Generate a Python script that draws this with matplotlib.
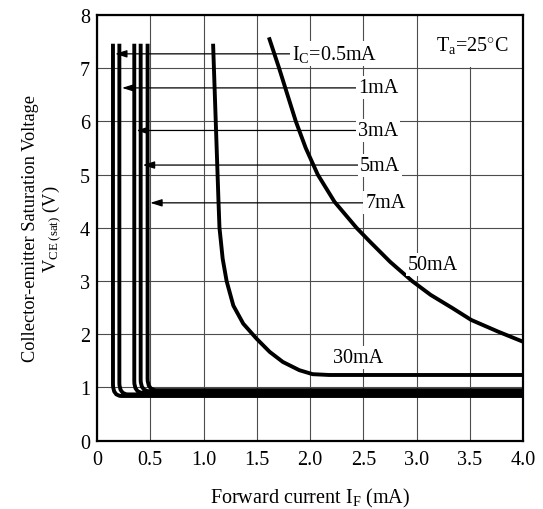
import matplotlib
matplotlib.use("Agg")
import matplotlib.pyplot as plt
from matplotlib.path import Path
from matplotlib.patches import PathPatch, Rectangle

plt.rcParams["font.family"] = ["Liberation Serif", "DejaVu Serif"]
plt.rcParams["mathtext.fontset"] = "custom"
plt.rcParams["mathtext.rm"] = "Liberation Serif"
plt.rcParams["mathtext.it"] = "Liberation Serif:italic"

# low-current curves (IC = 0.5, 1, 3, 5, 7 mA): vertical part then flat part
LOW_LABELS = ["I$_{\\mathrm{C}}$=0.5mA", "1mA", "3mA", "5mA", "7mA"]
LOW_X = [0.15, 0.21, 0.35, 0.41, 0.475]      # IF of the vertical part
LOW_FLAT = [0.84, 0.87, 0.90, 0.93, 0.95]    # VCE(sat) of the flat part
LOW_TOP = 7.46
LOW_XEND = 4.0

# arrow for each low-current label
ARROW_Y = [7.27, 6.63, 5.83, 5.18, 4.47]
ARROW_TIP = [0.17, 0.235, 0.37, 0.43, 0.50]
LABEL_X = [1.83, 2.45, 2.45, 2.47, 2.52]

# IC = 30 mA
IC30_X = [1.09, 1.115, 1.14, 1.15, 1.161, 1.18, 1.217, 1.28, 1.373, 1.497,
          1.621, 1.745, 1.90, 2.025, 2.18, 4.0]
IC30_Y = [7.46, 6.0, 4.54, 4.0, 3.79, 3.42, 3.0, 2.54, 2.2, 1.92,
          1.67, 1.48, 1.325, 1.25, 1.235, 1.235]

# IC = 50 mA
IC50_X = [1.614, 1.71, 1.79, 1.867, 1.96, 2.073, 2.23, 2.437, 2.563, 2.753,
          2.959, 3.133, 3.339, 3.513, 3.766, 4.0]
IC50_Y = [7.58, 7.0, 6.49, 6.0, 5.5, 5.0, 4.49, 4.0, 3.74, 3.36,
          3.0, 2.74, 2.49, 2.27, 2.05, 1.86]

XTICKS = [0, 0.5, 1.0, 1.5, 2.0, 2.5, 3.0, 3.5, 4.0]
XTICKLABELS = ["0", "0.5", "1.0", "1.5", "2.0", "2.5", "3.0", "3.5", "4.0"]
YTICKS = list(range(9))

CURVE_LW = 2.8
FS = 14.5
label_box = dict(facecolor="white", edgecolor="none", pad=1.5)

fig = plt.figure(figsize=(5.43, 5.10), dpi=100)
ax = fig.add_axes([97 / 543, 1 - 441.7 / 510, 426 / 543, 425.7 / 510])
ax.set_xlim(0, 4)
ax.set_ylim(0, 8)
ax.set_axisbelow(True)
ax.grid(True, color="0.3", lw=0.8)
for s in ax.spines.values():
    s.set_linewidth(1.6)

ax.set_xticks(XTICKS, XTICKLABELS)
ax.set_yticks(YTICKS)
ax.tick_params(axis="both", length=0, labelsize=FS)
ax.tick_params(axis="x", pad=7)
ax.tick_params(axis="y", pad=5)

# rounded corners of the low-current curves
rx, ry = 0.08, 0.22
for x, yf in zip(LOW_X, LOW_FLAT):
    verts = [(x, LOW_TOP), (x, yf + ry), (x, yf), (x + rx, yf), (LOW_XEND, yf)]
    codes = [Path.MOVETO, Path.LINETO, Path.CURVE3, Path.CURVE3, Path.LINETO]
    ax.add_patch(PathPatch(Path(verts, codes), fill=False, lw=CURVE_LW,
                           edgecolor="black", capstyle="butt", zorder=2))

for xs, ys in [(IC30_X, IC30_Y), (IC50_X, IC50_Y)]:
    ax.plot(xs, ys, color="black", lw=CURVE_LW, solid_capstyle="butt",
            solid_joinstyle="round", zorder=2)

for lab, y, tip, lx in zip(LOW_LABELS, ARROW_Y, ARROW_TIP, LABEL_X):
    ax.annotate("", xy=(tip, y), xytext=(lx - 0.02, y),
                arrowprops=dict(arrowstyle="-|>,head_length=0.7,head_width=0.22",
                                lw=0.9, color="black", mutation_scale=10,
                                shrinkA=0, shrinkB=0), zorder=3)
    ax.text(lx, y, lab, ha="left", va="center", fontsize=FS, bbox=label_box, zorder=4)

ax.text(2.22, 1.57, "30mA", ha="left", va="center", fontsize=FS, bbox=label_box, zorder=4)
ax.text(2.92, 3.31, "50mA", ha="left", va="center", fontsize=FS, bbox=label_box, zorder=4)

# white panel behind the temperature note
ax.add_patch(Rectangle((3.02, 7.03), 0.96, 0.95, facecolor="white",
                       edgecolor="none", zorder=1))
ax.text(3.525, 7.45, "T$_{\\mathrm{a}}$=25$^{\\circ}$C", ha="center", va="center",
        fontsize=FS, zorder=4)

ax.set_xlabel("Forward current I$_{\\mathrm{F}}$ (mA)", fontsize=FS, labelpad=12)
ax.set_ylabel("Collector-emitter Saturation Voltage\nV$_{\\mathrm{CE\\ (sat)}}$ (V)",
              fontsize=13.2, va="center", linespacing=1.1)
ax.yaxis.set_label_coords(-0.127, 0.5)

fig.savefig("out.png", dpi=100)
